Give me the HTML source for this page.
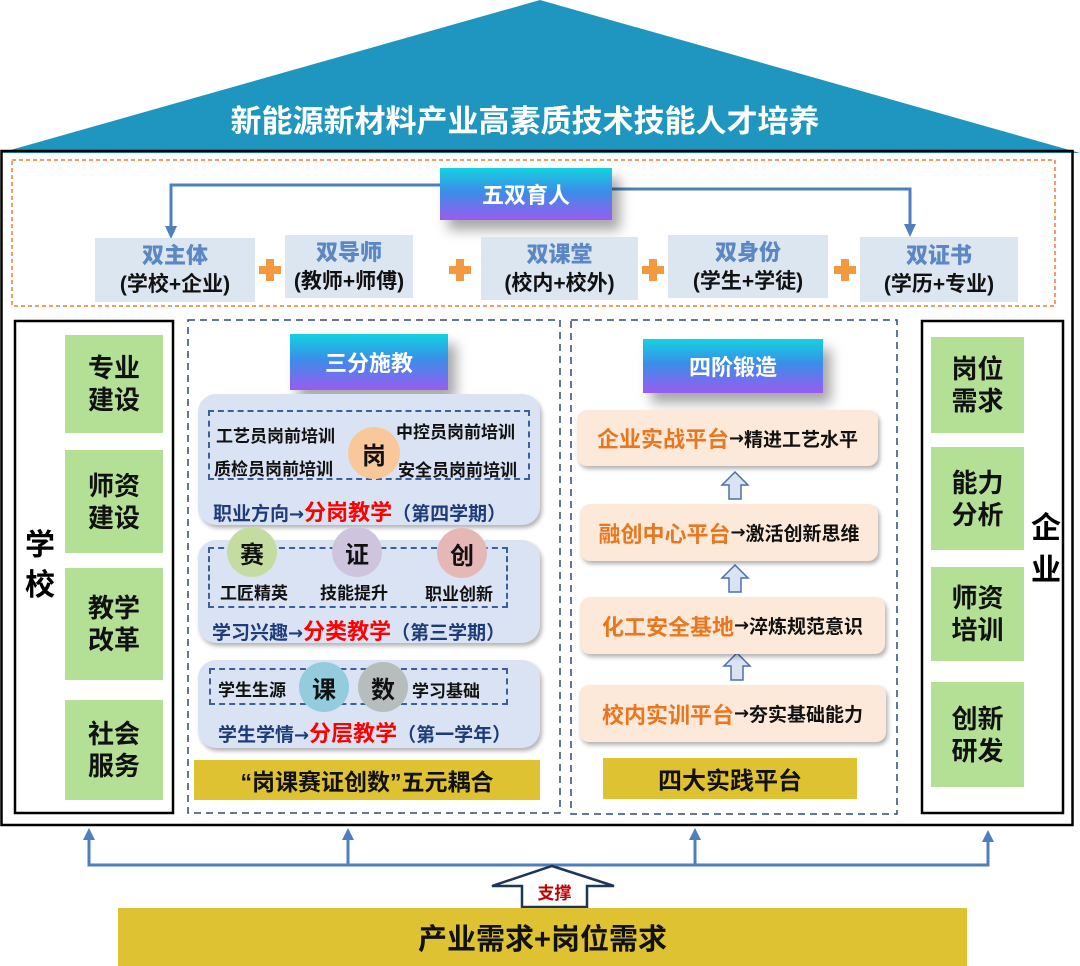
<!DOCTYPE html>
<html><head><meta charset="utf-8">
<style>
*{margin:0;padding:0;box-sizing:border-box}
body{width:1080px;height:966px;background:#fff;position:relative;overflow:hidden;font-family:"Liberation Sans","Noto Sans CJK SC",sans-serif;font-weight:bold}
.a{position:absolute}
.c{display:flex;align-items:center;justify-content:center;text-align:center}
.grad{background:linear-gradient(180deg,#14d2e0 0%,#3a8ee8 45%,#9a5cf0 100%);color:#fff;font-size:22px;box-shadow:8px 10px 12px rgba(0,0,0,.35)}
.db{background:#dce6f1;font-size:21px;line-height:29px;flex-direction:column;color:#111;white-space:nowrap}
.db b{color:#5b87c5;font-size:22px}
.plus{position:absolute;width:22px;height:22px}
.plus:before,.plus:after{content:"";position:absolute;background:#f39a40}
.plus:before{left:7px;top:0;width:8px;height:22px}
.plus:after{left:0;top:7px;width:22px;height:8px}
.green{background:#b3e095;font-size:26px;line-height:32px;color:#111}
.panel{background:#dae3f3;border-radius:18px;box-shadow:2px 3px 4px rgba(0,0,0,.3)}
.dash{border:2px dashed #3c5f9c}
.circ{border-radius:50%;font-size:24px;color:#111}
.t15{font-size:17px;color:#111;white-space:nowrap}
.line{font-size:19px;color:#1f3c7a;white-space:nowrap}
.line span{color:#f00;font-size:22px}
.ar{font-family:"DejaVu Sans",sans-serif;font-size:18px}
.peach{background:#fde9d9;border-radius:10px;box-shadow:2px 3px 4px rgba(0,0,0,.3);font-size:19px;white-space:nowrap;color:#111}
.peach span{color:#e8771f;font-size:22px}
.yel{background:#dfc232;color:#111}
</style></head><body>
<svg class="a" style="left:0;top:0" width="1080" height="966">
<polygon points="0,153 540,0 1080,153" fill="#1e96bf"/>
<rect x="1.5" y="151" width="1071" height="674" fill="none" stroke="#000" stroke-width="2.5"/>
<rect x="12" y="160" width="1043" height="146" fill="none" stroke="#ed7d31" stroke-width="1.5" stroke-dasharray="4,3"/>
<rect x="188" y="320" width="372" height="493" fill="none" stroke="#2f4b70" stroke-width="1.5" stroke-dasharray="7,5"/>
<rect x="571" y="320" width="326" height="494" fill="none" stroke="#2f4b70" stroke-width="1.5" stroke-dasharray="7,5"/>
<rect x="15" y="321" width="158" height="492" fill="none" stroke="#000" stroke-width="2.5"/>
<rect x="922" y="321" width="141" height="492" fill="none" stroke="#000" stroke-width="2.5"/>
<g stroke="#4f7fbc" stroke-width="3" fill="none">
<polyline points="440,185 171,185 171,228"/>
<polyline points="612,189 910,189 910,226"/>
<polyline points="89,838 89,865 988,865 988,840"/>
<line x1="348" y1="838" x2="348" y2="865"/>
<line x1="695" y1="838" x2="695" y2="865"/>
</g>
<g fill="#4f7fbc">
<polygon points="165,226 177,226 171,239"/>
<polygon points="904,224 916,224 910,237"/>
<polygon points="83,840 95,840 89,828"/>
<polygon points="342,840 354,840 348,828"/>
<polygon points="689,840 701,840 695,828"/>
<polygon points="982,842 994,842 988,830"/>
</g>
<polygon points="552,866 614,886 587,886 587,907 522,907 522,886 492,886" fill="#fff" stroke="#1f3756" stroke-width="2.5" stroke-linejoin="miter"/>
<g fill="#dae3f3" stroke="#4f6fae" stroke-width="1.5">
<polygon points="735,472 748,485 741,485 741,499 729,499 729,485 722,485"/>
<polygon points="735,565 748,578 741,578 741,592 729,592 729,578 722,578"/>
<polygon points="737,653 750,666 743,666 743,680 731,680 731,666 724,666"/>
</g>
</svg>
<div class="a c" style="left:0;top:98px;width:1050px;height:40px;color:#fff;font-size:31px">新能源新材料产业高素质技术技能人才培养</div>

<div class="a c grad" style="left:440px;top:168px;width:172px;height:52px">五双育人</div>
<div class="a c db" style="left:95px;top:238px;width:160px;height:64px"><b>双主体</b>(学校+企业)</div>
<div class="a c db" style="left:285px;top:235px;width:128px;height:63px"><b>双导师</b>(教师+师傅)</div>
<div class="a c db" style="left:481px;top:237px;width:157px;height:63px"><b>双课堂</b>(校内+校外)</div>
<div class="a c db" style="left:668px;top:235px;width:160px;height:63px"><b>双身份</b>(学生+学徒)</div>
<div class="a c db" style="left:860px;top:237px;width:158px;height:65px"><b>双证书</b>(学历+专业)</div>
<div class="plus" style="left:259px;top:259px"></div>
<div class="plus" style="left:449px;top:259px"></div>
<div class="plus" style="left:642px;top:259px"></div>
<div class="plus" style="left:834px;top:259px"></div>

<div class="a c" style="left:20px;top:526px;width:40px;font-size:30px;line-height:40px">学<br>校</div>
<div class="a c green" style="left:65px;top:335px;width:98px;height:98px">专业<br>建设</div>
<div class="a c green" style="left:65px;top:450px;width:98px;height:103px">师资<br>建设</div>
<div class="a c green" style="left:65px;top:568px;width:98px;height:112px">教学<br>改革</div>
<div class="a c green" style="left:65px;top:700px;width:98px;height:100px">社会<br>服务</div>

<div class="a c" style="left:1026px;top:508px;width:40px;font-size:30px;line-height:42px">企<br>业</div>
<div class="a c green" style="left:931px;top:337px;width:93px;height:96px">岗位<br>需求</div>
<div class="a c green" style="left:931px;top:447px;width:93px;height:103px">能力<br>分析</div>
<div class="a c green" style="left:931px;top:567px;width:93px;height:94px">师资<br>培训</div>
<div class="a c green" style="left:931px;top:682px;width:93px;height:105px">创新<br>研发</div>

<!-- middle -->
<div class="a c grad" style="left:290px;top:334px;width:158px;height:56px">三分施教</div>
<div class="a panel" style="left:198px;top:394px;width:342px;height:131px"></div>
<div class="a dash" style="left:208px;top:410px;width:322px;height:70px"></div>
<div class="a c circ" style="left:348px;top:427px;width:52px;height:52px;background:#f8c89a">岗</div>
<div class="a t15" style="left:216px;top:422px">工艺员岗前培训</div>
<div class="a t15" style="left:396px;top:418px">中控员岗前培训</div>
<div class="a t15" style="left:214px;top:455px">质检员岗前培训</div>
<div class="a t15" style="left:398px;top:456px">安全员岗前培训</div>
<div class="a line" style="left:213px;top:495px">职业方向<b class="ar">→</b><span>分岗教学</span>（第四学期）</div>

<div class="a panel" style="left:198px;top:540px;width:342px;height:103px"></div>
<div class="a dash" style="left:208px;top:547px;width:300px;height:61px"></div>
<div class="a c circ" style="left:227px;top:527px;width:50px;height:50px;background:#c5dca0">赛</div>
<div class="a c circ" style="left:332px;top:527px;width:50px;height:50px;background:#cfc4dd">证</div>
<div class="a c circ" style="left:437px;top:528px;width:50px;height:50px;background:#e6b7b7">创</div>
<div class="a t15" style="left:220px;top:579px">工匠精英</div>
<div class="a t15" style="left:320px;top:579px">技能提升</div>
<div class="a t15" style="left:425px;top:580px">职业创新</div>
<div class="a line" style="left:212px;top:614px">学习兴趣<b class="ar">→</b><span>分类教学</span>（第三学期）</div>

<div class="a panel" style="left:198px;top:660px;width:342px;height:88px"></div>
<div class="a dash" style="left:209px;top:668px;width:299px;height:37px"></div>
<div class="a c circ" style="left:299px;top:662px;width:50px;height:50px;background:#93cddd">课</div>
<div class="a c circ" style="left:358px;top:662px;width:50px;height:50px;background:#b7bcbc">数</div>
<div class="a t15" style="left:218px;top:676px">学生生源</div>
<div class="a t15" style="left:412px;top:677px">学习基础</div>
<div class="a line" style="left:218px;top:716px">学生学情<b class="ar">→</b><span>分层教学</span>（第一学年）</div>
<div class="a c yel" style="left:194px;top:760px;width:346px;height:40px;font-size:23px">“岗课赛证创数”五元耦合</div>

<!-- right -->
<div class="a c grad" style="left:643px;top:339px;width:180px;height:54px">四阶锻造</div>
<div class="a c peach" style="left:577px;top:410px;width:301px;height:56px"><span>企业实战平台</span><b class="ar">→</b>精进工艺水平</div>
<div class="a c peach" style="left:580px;top:504px;width:298px;height:57px"><span>融创中心平台</span><b class="ar">→</b>激活创新思维</div>
<div class="a c peach" style="left:580px;top:597px;width:305px;height:57px"><span>化工安全基地</span><b class="ar">→</b>淬炼规范意识</div>
<div class="a c peach" style="left:579px;top:685px;width:307px;height:57px"><span>校内实训平台</span><b class="ar">→</b>夯实基础能力</div>
<div class="a c yel" style="left:603px;top:758px;width:254px;height:41px;font-size:24px">四大实践平台</div>

<div class="a c" style="left:522px;top:878px;width:65px;height:26px;color:#c00000;font-size:17px">支撑</div>
<div class="a c yel" style="left:118px;top:908px;width:849px;height:58px;font-size:29px">产业需求+岗位需求</div>
</body></html>
